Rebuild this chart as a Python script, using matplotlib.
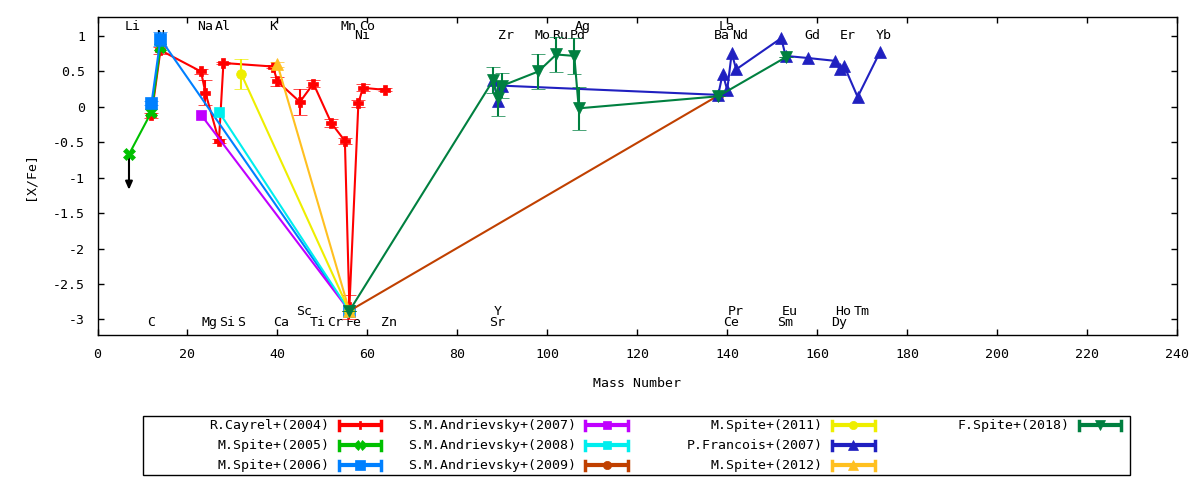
import matplotlib
matplotlib.use('Agg')
import matplotlib.pyplot as plt
from matplotlib.ticker import MultipleLocator, FuncFormatter
from matplotlib.patches import Rectangle

plt.rcParams['font.family'] = 'DejaVu Sans Mono'
plt.rcParams['font.size'] = 9.5
plt.rcParams['axes.unicode_minus'] = False

# %% data: mass number, [X/Fe], error
cayrel_mass = [12, 14, 23, 24, 27, 28, 39, 40, 45, 48, 52, 55, 56, 58, 59, 64]
cayrel_val = [-0.12, 0.80, 0.50, 0.20, -0.48, 0.62, 0.57, 0.36, 0.07, 0.33,
              -0.23, -0.48, -2.83, 0.05, 0.27, 0.24]
cayrel_err = [0.03, 0.05, 0.03, 0.18, 0.03, 0.02, 0.02, 0.06, 0.18, 0.05,
              0.06, 0.04, 0.17, 0.05, 0.05, 0.02]

spite05_mass = [7, 12, 14]
spite05_val = [-0.67, -0.07, 0.85]

spite06_mass = [12, 14, 56]
spite06_val = [0.05, 0.96, -2.88]
spite06_err = [0.03, 0.10, 0.0]

andr07_mass = [23, 56]
andr07_val = [-0.11, -2.88]

andr08_mass = [27, 56]
andr08_val = [-0.07, -2.88]

andr09_mass = [56, 138]
andr09_val = [-2.88, 0.16]

spite11_mass = [32, 56]
spite11_val = [0.46, -2.88]
spite11_err = [0.21, 0.0]

francois_mass = [88, 89, 90, 138, 139, 140, 141, 142, 152, 153, 158, 164,
                 165, 166, 169, 174]
francois_val = [0.38, 0.08, 0.30, 0.17, 0.47, 0.24, 0.76, 0.53, 0.97, 0.72,
                0.69, 0.65, 0.53, 0.58, 0.14, 0.78]

spite12_mass = [40, 56]
spite12_val = [0.60, -2.88]
spite12_err = [0.04, 0.0]

fspite_mass = [56, 88, 89, 90, 98, 102, 106, 107, 138, 153]
fspite_val = [-2.88, 0.38, 0.12, 0.30, 0.50, 0.74, 0.72, -0.02, 0.15, 0.70]
fspite_err = [0.0, 0.18, 0.25, 0.18, 0.25, 0.25, 0.25, 0.30, 0.0, 0.0]

# Li upper limit (M.Spite+2005)
li_arrow_end = -1.17

# element names, 4 rows of labels
top_hi_names = ['Li', 'Na', 'Al', 'K', 'Mn', 'Co', 'Ag', 'La']
top_hi_mass = [7, 23, 27, 39, 55, 59, 107, 139]
top_lo_names = ['N', 'Ni', 'Zr', 'Mo', 'Ru', 'Pd', 'Ba', 'Nd', 'Gd', 'Er', 'Yb']
top_lo_mass = [14, 58, 90, 98, 102, 106, 138, 142, 158, 166, 174]
bot_hi_names = ['Sc', 'Y', 'Pr', 'Eu', 'Ho', 'Tm']
bot_hi_mass = [45, 89, 141, 153, 165, 169]
bot_lo_names = ['C', 'Mg', 'Si', 'S', 'Ca', 'Ti', 'Cr', 'Fe', 'Zn', 'Sr',
                'Ce', 'Sm', 'Dy']
bot_lo_mass = [12, 24, 28, 32, 40, 48, 52, 56, 64, 88, 140, 152, 164]
label_rows = [(top_hi_names, top_hi_mass, 1.135),
              (top_lo_names, top_lo_mass, 1.015),
              (bot_hi_names, bot_hi_mass, -2.885),
              (bot_lo_names, bot_lo_mass, -3.05)]

series = [
    ('R.Cayrel+(2004)', cayrel_mass, cayrel_val, cayrel_err, '#ff0000', 'P', 7),
    ('M.Spite+(2005)', spite05_mass, spite05_val, None, '#00c000', 'X', 8),
    ('M.Spite+(2006)', spite06_mass, spite06_val, spite06_err, '#0080ff', 's', 8),
    ('S.M.Andrievsky+(2007)', andr07_mass, andr07_val, None, '#c000ff', 's', 7.5),
    ('S.M.Andrievsky+(2008)', andr08_mass, andr08_val, None, '#00eeee', 's', 7.5),
    ('S.M.Andrievsky+(2009)', andr09_mass, andr09_val, None, '#c04000', 'o', 7),
    ('M.Spite+(2011)', spite11_mass, spite11_val, spite11_err, '#eeee00', 'o', 7),
    ('P.Francois+(2007)', francois_mass, francois_val, None, '#2020c0', '^', 8),
    ('M.Spite+(2012)', spite12_mass, spite12_val, spite12_err, '#ffc020', '^', 8),
    ('F.Spite+(2018)', fspite_mass, fspite_val, fspite_err, '#008040', 'v', 8),
]

# %% plot
fig = plt.figure(figsize=(12, 4.8), dpi=100)
ax = fig.add_axes([97.5/1200, 1-335/480, (1177-97.5)/1200, (335-17.3)/480])

for names, masses, yrow in label_rows:
    for nm, ms_ in zip(names, masses):
        ax.text(ms_ - 0.9, yrow, nm, ha='left', va='center', zorder=1)

for k, (lab, xs, ys, es, c, m, msz) in enumerate(series):
    ax.errorbar(xs, ys, yerr=es, color=c, marker=m, ms=msz, mew=0.5,
                lw=1.5, elinewidth=1.5, capsize=5, capthick=1.5,
                zorder=2 + k)

ax.annotate('', xy=(spite05_mass[0], li_arrow_end),
            xytext=(spite05_mass[0], spite05_val[0]),
            arrowprops=dict(arrowstyle='-|>,head_length=0.5,head_width=0.22',
                            color='k', lw=1.5, shrinkA=0, shrinkB=0),
            zorder=3)

ax.set_xlim(0, 240)
ax.set_ylim(-3.22, 1.265)
ax.xaxis.set_major_locator(MultipleLocator(20))
ax.yaxis.set_major_locator(MultipleLocator(0.5))
ax.yaxis.set_major_formatter(FuncFormatter(lambda v, p: f'{v:g}'))
ax.tick_params(direction='in', top=True, right=True, length=4, width=1, pad=9)
for sp in ax.spines.values():
    sp.set_linewidth(1)

ax.set_xlabel('Mass Number')
ax.xaxis.label.set_va('center')
ax.xaxis.set_label_coords(0.5, -0.154)
ax.set_ylabel('[X/Fe]')
ax.yaxis.label.set_va('center')
ax.yaxis.set_label_coords(-0.0625, 0.5)

# %% gnuplot style key, drawn in pixel coordinates
lax = fig.add_axes([0, 0, 1, 1])
lax.set_xlim(0, 1200)
lax.set_ylim(480, 0)
lax.axis('off')
lax.add_patch(Rectangle((143, 415.7), 987, 59.3, fill=False, lw=1, ec='k'))
for i, (lab, xs, ys, es, c, m, msz) in enumerate(series):
    col, row = divmod(i, 3)
    x0 = 338.7 + col * 246.7
    x1 = x0 + 42.6
    y = 425 + row * 20
    lax.plot([x0, x1], [y, y], color=c, lw=3, solid_capstyle='butt')
    lax.plot([x0, x0], [y - 4.5, y + 4.5], color=c, lw=2.5)
    lax.plot([x1, x1], [y - 4.5, y + 4.5], color=c, lw=2.5)
    lax.plot([(x0 + x1) / 2], [y], marker=m, color=c, ms=msz * 0.85, mew=0.5)
    lax.text(x0 - 9.4, y, lab, ha='right', va='center')

fig.savefig('out.png', dpi=100)
